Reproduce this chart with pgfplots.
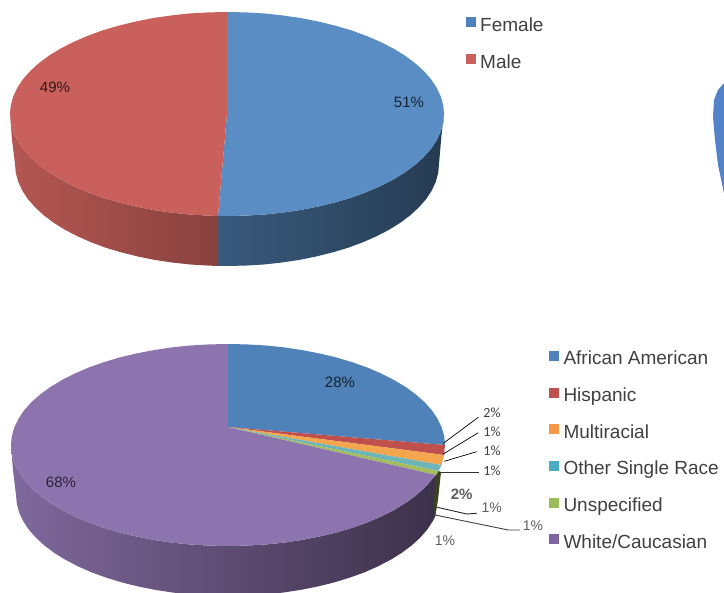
\documentclass[border=0pt]{standalone}
\usepackage{fontspec}
\setmainfont{Liberation Sans}
\newfontfamily\carlfont{Carlito}
\usepackage{pgfplots}
\pgfplotsset{compat=1.18}
\definecolor{cBlue}{HTML}{5A8DC4}
\definecolor{cRed}{HTML}{C9605B}
\definecolor{cBlueB}{HTML}{4F82B8}
\definecolor{cRedB}{HTML}{C0504D}
\definecolor{cOrange}{HTML}{F4A64F}
\definecolor{cTeal}{HTML}{6DB5B8}
\definecolor{cGreen}{HTML}{A5BC5C}
\definecolor{cPurple}{HTML}{8E74AE}
\definecolor{cTxt}{HTML}{404040}
\definecolor{cLeg}{HTML}{4F81BD}
\definecolor{cLegR}{HTML}{C0504D}
\definecolor{cLegO}{HTML}{F79646}
\definecolor{cLegT}{HTML}{4BACC6}
\definecolor{cLegG}{HTML}{9BBB59}
\definecolor{cLegP}{HTML}{8064A2}
\newcommand{\legtxt}[3]{\node[anchor=base west,inner sep=0pt,text=cTxt,font=\fontsize{19}{19}\selectfont] at (axis cs:#1,#2) {#3};}
\newcommand{\datlab}[4]{\node[inner sep=0pt,text=#4,font=\fontsize{15}{15}\selectfont] at (axis cs:#1,#2) {#3\%};}
\newcommand{\carlab}[3]{\node[inner sep=0pt,text=cTxt,font=\carlfont\fontsize{14}{14}\selectfont] at (axis cs:#1,#2) {#3\%};}
\begin{document}
\begin{tikzpicture}
\begin{axis}[name=a,scale only axis,width=724pt,height=593pt,xmin=0,xmax=724,ymin=0,ymax=593,y dir=reverse,axis lines=none]
% top pie: sides
\addplot[draw=none,left color=cBlue!64!black,right color=cBlue!42!black] coordinates {(444,114)(443.2,122.9)(440.7,131.7)(436.6,140.4)(431,148.9)(423.7,157.1)(414.9,165)(404.8,172.5)(393.2,179.6)(380.4,186.1)(366.5,192.1)(351.5,197.6)(335.5,202.3)(318.7,206.4)(301.2,209.9)(283.2,212.5)(264.8,214.5)(245.9,215.6)(227,216)(218,216)(218,266)(227,266)(245.5,265.6)(263.8,264.5)(281.9,262.5)(299.5,259.9)(316.6,256.4)(333,252.3)(348.6,247.6)(363.3,242.1)(376.9,236.1)(389.4,229.6)(400.7,222.5)(410.6,215)(419.1,207.1)(426.3,198.9)(431.8,190.4)(435.8,181.7)(438.2,172.9)(439,164)(441.5,135)};
\addplot[draw=none,left color=cRed!90!black,right color=cRed!68!black] coordinates {(218,216)(208.1,215.6)(189.2,214.5)(170.8,212.5)(152.8,209.9)(135.3,206.4)(118.5,202.3)(102.5,197.6)(87.5,192.1)(73.6,186.1)(60.8,179.6)(49.2,172.5)(39.1,165)(30.3,157.1)(23,148.9)(17.4,140.4)(13.3,131.7)(10.8,122.9)(10,114)(12,140)(15,164)(15.8,172.9)(18.2,181.7)(22.2,190.4)(27.7,198.9)(34.9,207.1)(43.4,215)(53.3,222.5)(64.6,229.6)(77.1,236.1)(90.7,242.1)(105.4,247.6)(121,252.3)(137.4,256.4)(154.5,259.9)(172.1,262.5)(190.2,264.5)(208.5,265.6)(218,266)};
% top pie: surface
\addplot[draw=none,fill=cBlue] coordinates {(227,114)(227,12)(245.9,12.4)(264.8,13.5)(283.2,15.5)(301.2,18.1)(318.7,21.6)(335.5,25.7)(351.5,30.4)(366.5,35.9)(380.4,41.9)(393.2,48.4)(404.8,55.5)(414.9,63)(423.7,70.9)(431,79.1)(436.6,87.6)(440.7,96.3)(443.2,105.1)(444,114)(443.2,122.9)(440.7,131.7)(436.6,140.4)(431,148.9)(423.7,157.1)(414.9,165)(404.8,172.5)(393.2,179.6)(380.4,186.1)(366.5,192.1)(351.5,197.6)(335.5,202.3)(318.7,206.4)(301.2,209.9)(283.2,212.5)(264.8,214.5)(245.9,215.6)(227,216)(218,216)};
\addplot[draw=none,fill=cRed] coordinates {(227,114)(218,216)(208.1,215.6)(189.2,214.5)(170.8,212.5)(152.8,209.9)(135.3,206.4)(118.5,202.3)(102.5,197.6)(87.5,192.1)(73.6,186.1)(60.8,179.6)(49.2,172.5)(39.1,165)(30.3,157.1)(23,148.9)(17.4,140.4)(13.3,131.7)(10.8,122.9)(10,114)(10.8,105.1)(13.3,96.3)(17.4,87.6)(23,79.1)(30.3,70.9)(39.1,63)(49.2,55.5)(60.8,48.4)(73.6,41.9)(87.5,35.9)(102.5,30.4)(118.5,25.7)(135.3,21.6)(152.8,18.1)(170.8,15.5)(189.2,13.5)(208.1,12.4)(227,12)};
% fragment of a further pie, right edge
\addplot[draw=none,fill=cBlue!92!blue] coordinates {(724,83)(718,90)(714,100)(713,117)(715,140)(718,165)(724,193)};
% bottom pie: sides
\addplot[draw=none,left color=cPurple!90!black,middle color=cPurple!62!black,right color=cPurple!42!black] coordinates {(436,475)(432,479.5)(424.7,487.7)(415.9,495.5)(405.8,502.9)(394.2,509.9)(381.4,516.4)(367.5,522.4)(352.5,527.7)(336.5,532.5)(319.7,536.5)(302.2,539.9)(284.2,542.6)(265.8,544.5)(246.9,545.6)(228,546)(209.1,545.6)(190.2,544.5)(171.8,542.6)(153.8,539.9)(136.3,536.5)(119.5,532.5)(103.5,527.7)(88.5,522.4)(74.6,516.4)(61.8,509.9)(50.2,502.9)(40.1,495.5)(31.3,487.7)(24,479.5)(18.4,471.1)(14.3,462.6)(11.8,453.8)(11,445)(13,470)(16,495)(16.8,503.8)(19.2,512.6)(23.2,521.1)(28.7,529.5)(35.9,537.7)(44.4,545.5)(54.3,552.9)(65.6,559.9)(78.1,566.4)(91.7,572.4)(106.4,577.7)(122,582.5)(138.4,586.5)(155.5,589.9)(173.1,592.6)(191.2,594.5)(209.5,595.6)(228,596)(246.5,595.6)(264.8,594.5)(282.9,592.6)(300.5,589.9)(317.6,586.5)(334,582.5)(349.6,577.7)(364.3,572.4)(377.9,566.4)(390.4,559.9)(401.7,552.9)(411.6,545.5)(420.1,537.7)(427.3,529.5)(432.8,521.1)(435,517)(436.8,505)};
\addplot[draw=none,fill=cGreen!35!black] coordinates {(436,475)(438.5,471)(441,472)(438,500)(435,517)(433.5,505)};
% bottom pie: surface
\addplot[draw=none,fill=cBlueB] coordinates {(228,427)(228,344)(246.9,344.4)(265.8,345.5)(284.2,347.4)(302.2,350.1)(319.7,353.5)(336.5,357.5)(352.5,362.3)(367.5,367.6)(381.4,373.6)(394.2,380.1)(405.8,387.1)(415.9,394.5)(424.7,402.3)(432,410.5)(437.6,418.9)(441.7,427.4)(444.2,436.2)(445,445)};
\addplot[draw=none,fill=cRedB] coordinates {(228,427)(445,445)(444.2,453.8)(444,455)};
\addplot[draw=none,fill=cOrange] coordinates {(228,427)(444,455)(441.5,465)};
\addplot[draw=none,fill=cTeal] coordinates {(228,427)(441.5,465)(438.5,471)};
\addplot[draw=none,fill=cGreen] coordinates {(228,427)(438.5,471)(436,475)};
\addplot[draw=none,fill=cPurple] coordinates {(228,427)(436,475)(432,479.5)(424.7,487.7)(415.9,495.5)(405.8,502.9)(394.2,509.9)(381.4,516.4)(367.5,522.4)(352.5,527.7)(336.5,532.5)(319.7,536.5)(302.2,539.9)(284.2,542.6)(265.8,544.5)(246.9,545.6)(228,546)(209.1,545.6)(190.2,544.5)(171.8,542.6)(153.8,539.9)(136.3,536.5)(119.5,532.5)(103.5,527.7)(88.5,522.4)(74.6,516.4)(61.8,509.9)(50.2,502.9)(40.1,495.5)(31.3,487.7)(24,479.5)(18.4,471.1)(14.3,462.6)(11.8,453.8)(11,445)(11.8,436.2)(14.3,427.4)(18.4,418.9)(24,410.5)(31.3,402.3)(40.1,394.5)(50.2,387.1)(61.8,380.1)(74.6,373.6)(88.5,367.6)(103.5,362.3)(119.5,357.5)(136.3,353.5)(153.8,350.1)(171.8,347.4)(190.2,345.5)(209.1,344.4)(228,344)};
% leader lines
\addplot[black,line width=0.7pt] coordinates {(443.3,443.3)(478.3,417.3)};
\addplot[black,line width=0.7pt] coordinates {(443.3,454)(478.3,432.7)};
\addplot[black,line width=0.7pt] coordinates {(444.3,461.3)(476.7,451.7)};
\addplot[black!80,line width=0.7pt] coordinates {(439.3,472)(479,472)};
\addplot[black!85,line width=0.9pt] coordinates {(437.3,507.3)(466.7,514)(476.7,513.3)};
\addplot[black!75,line width=0.9pt] coordinates {(435,515)(508.3,530)(520,530)};
% legend keys
\addplot[only marks,mark=square*,mark size=4.6pt,mark options={fill=cLeg,draw=cLeg,line width=0pt}] coordinates {(470.7,22)(553.6,355.7)};
\addplot[only marks,mark=square*,mark size=4.6pt,mark options={fill=cRed,draw=cRed,line width=0pt}] coordinates {(470.7,59)};
\addplot[only marks,mark=square*,mark size=4.6pt,mark options={fill=cLegR,draw=cLegR,line width=0pt}] coordinates {(553.6,392.7)};
\addplot[only marks,mark=square*,mark size=4.6pt,mark options={fill=cLegO,draw=cLegO,line width=0pt}] coordinates {(553.6,429.3)};
\addplot[only marks,mark=square*,mark size=4.6pt,mark options={fill=cLegT,draw=cLegT,line width=0pt}] coordinates {(553.6,466)};
\addplot[only marks,mark=square*,mark size=4.6pt,mark options={fill=cLegG,draw=cLegG,line width=0pt}] coordinates {(553.6,502.7)};
\addplot[only marks,mark=square*,mark size=4.6pt,mark options={fill=cLegP,draw=cLegP,line width=0pt}] coordinates {(553.6,539.3)};
% legend text
\legtxt{480}{31.7}{Female}
\legtxt{480}{68.3}{Male}
\legtxt{563.3}{365}{African American}
\legtxt{563.3}{402}{Hispanic}
\legtxt{563.3}{438.5}{Multiracial}
\legtxt{563.3}{475}{Other Single Race}
\legtxt{563.3}{512}{Unspecified}
\legtxt{563.3}{549}{White/Caucasian}
% data labels
\datlab{409}{102}{51}{cBlue!25!black}
\datlab{55}{87}{49}{cRed!25!black}
\datlab{340}{382}{28}{cBlueB!25!black}
\datlab{61}{482}{68}{cPurple!30!black}
\carlab{492}{413}{2}
\carlab{492}{432}{1}
\carlab{492}{451}{1}
\carlab{492}{470.5}{1}
\node[inner sep=0pt,text=cTxt!85,font=\bfseries\fontsize{15}{15}\selectfont] at (axis cs:461.7,494.3) {2\%};
\node[inner sep=0pt,text=cTxt!85,font=\fontsize{14}{14}\selectfont] at (axis cs:491.7,507.3) {1\%};
\node[inner sep=0pt,text=cTxt!85,font=\fontsize{14}{14}\selectfont] at (axis cs:533,525.5) {1\%};
\node[inner sep=0pt,text=cTxt!85,font=\fontsize{14}{14}\selectfont] at (axis cs:445,540.7) {1\%};
\end{axis}
\path[use as bounding box] (a.south west) rectangle (a.north east);
\end{tikzpicture}
\end{document}
